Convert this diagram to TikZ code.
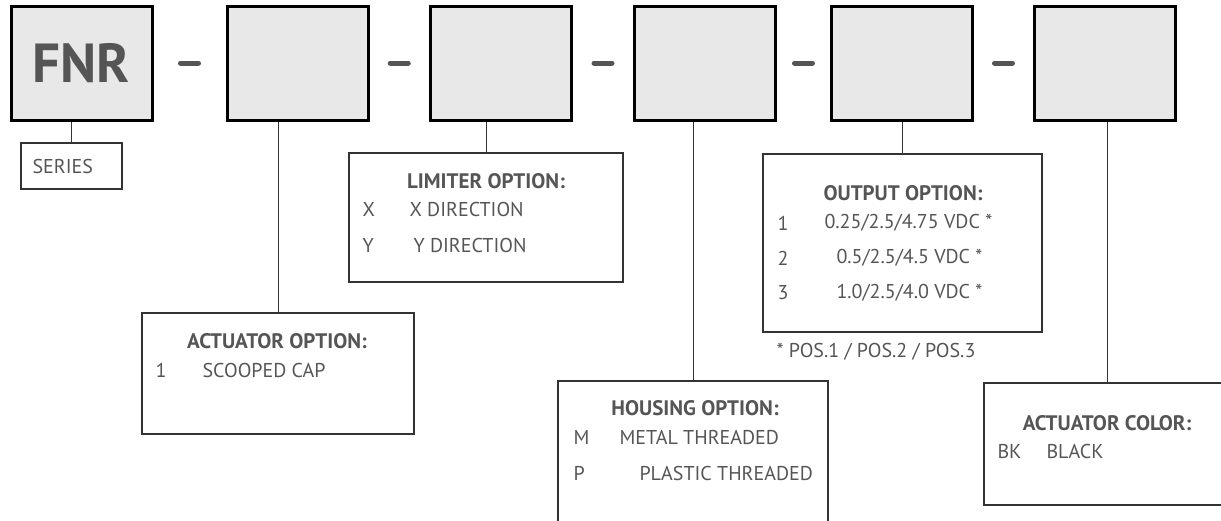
\documentclass[tikz,border=0pt]{standalone}
\usepackage{fontspec}
\setmainfont{PT Sans}
\usetikzlibrary{calc}
\definecolor{boxgray}{HTML}{E8E8E8}
\definecolor{txtgray}{HTML}{555555}
\begin{document}
\begin{tikzpicture}[x=1pt,y=-1pt,
    codebox/.style={draw=black,line width=3pt,fill=boxgray,minimum width=141pt,minimum height=114pt,inner sep=0pt},
    optbox/.style={draw=black!80,line width=1.3pt,inner sep=0pt},
    hdr/.style={text=txtgray,font=\fontsize{21}{24}\selectfont\bfseries},
    itm/.style={text=txtgray,font=\fontsize{20}{23}\selectfont,anchor=west},
    tie/.style={line width=0.9pt,draw=black!80},
    sep/.style={line width=5pt,line cap=round,draw=txtgray}]
    \useasboundingbox (0,0) rectangle (1221,520);
    \clip (0,0) rectangle (1221,520);
    % code boxes
    \node[codebox,text=txtgray,font=\fontsize{55}{60}\selectfont\bfseries] (fnr) at (81.5,63) {FNR};
    \node[codebox] (act) at (297.5,63) {};
    \node[codebox] (lim) at (501,63) {};
    \node[codebox] (hou) at (705,63) {};
    \node[codebox] (out) at (902,63) {};
    \node[codebox] (col) at (1105,63) {};
    \foreach \a/\b in {fnr/act,act/lim,lim/hou,hou/out,out/col}
        \draw[sep] ($(\a.east)!.5!(\b.west)$) ++(-9,0) -- ++(18,0);
    % option boxes
    \node[optbox,minimum width=101pt,minimum height=46pt] (series) at (71.5,166) {};
    \node[optbox,minimum width=272pt,minimum height=121pt] (actopt) at (278,373.5) {};
    \node[optbox,minimum width=274pt,minimum height=129pt] (limopt) at (486,217.5) {};
    \node[optbox,minimum width=270pt,minimum height=159pt] (houopt) at (693,460.5) {};
    \node[optbox,minimum width=279pt,minimum height=178pt] (outopt) at (902.5,243) {};
    \node[optbox,minimum width=246pt,minimum height=122pt] (colopt) at (1107,444) {};
    \draw[tie] (series.north) -- (series.north |- fnr.south);
    \draw[tie] (actopt.north) -- (actopt.north |- act.south);
    \draw[tie] (limopt.north) -- (limopt.north |- lim.south);
    \draw[tie] (houopt.north) -- (houopt.north |- hou.south);
    \draw[tie] (outopt.north) -- (outopt.north |- out.south);
    \draw[tie] (colopt.north) -- (colopt.north |- col.south);
    % texts
    \node[itm] (seriestxt) at (29,166) {SERIES};
    \node[hdr] (acthdr) at (277,341) {ACTUATOR OPTION:};
    \node[itm] (act1) at (152,370) {1};
    \node[itm] (act1txt) at (199,370) {SCOOPED CAP};
    \node[hdr] (limhdr) at (486,181) {LIMITER OPTION:};
    \node[itm] (limx) at (359,209) {X};
    \node[itm] (limxtxt) at (406,209) {X DIRECTION};
    \node[itm] (limy) at (359,245) {Y};
    \node[itm] (limytxt) at (410,245) {Y DIRECTION};
    \node[hdr] (houhdr) at (695,408) {HOUSING OPTION:};
    \node[itm] (houm) at (570,437) {M};
    \node[itm] (houmtxt) at (616,437) {METAL THREADED};
    \node[itm] (houp) at (570,473) {P};
    \node[itm] (houptxt) at (636,473) {PLASTIC THREADED};
    \node[hdr] (outhdr) at (903,193) {OUTPUT OPTION:};
    \node[itm] (out1) at (774,223) {1};
    \node[itm] (out1txt) at (821,223) {0.25/2.5/4.75 VDC *};
    \node[itm] (out2) at (774,258) {2};
    \node[itm] (out2txt) at (833,258) {0.5/2.5/4.5 VDC *};
    \node[itm] (out3) at (774,293) {3};
    \node[itm] (out3txt) at (833,293) {1.0/2.5/4.0 VDC *};
    \node[itm] (posnote) at (773,352) {* POS.1 / POS.2 / POS.3};
    \node[hdr] (colhdr) at (1107,423) {ACTUATOR COLOR:};
    \node[itm] (colbk) at (994,451) {BK};
    \node[itm] (colbktxt) at (1043,451) {BLACK};
\end{tikzpicture}
\end{document}
